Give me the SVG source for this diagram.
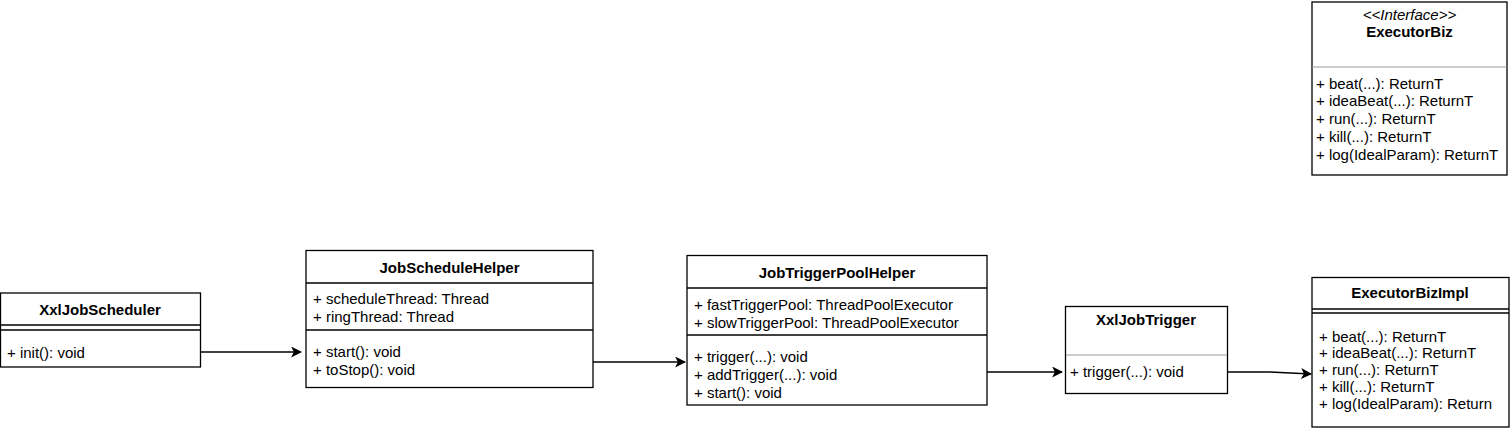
<svg xmlns="http://www.w3.org/2000/svg" width="1512" height="431" viewBox="0 0 1512 431">
<style>
.box{fill:#fff;stroke:#000;stroke-width:1.3}
.ln{stroke:#000;stroke-width:1.3;fill:none}
.gl{stroke:#999;stroke-width:1;fill:none}
text{font-family:"Liberation Sans",Arial,Helvetica,sans-serif;font-size:15px;fill:#000}
.t{font-weight:bold;text-anchor:middle}
.i{font-style:italic;text-anchor:middle}
.c{stroke:#000;stroke-width:1.3;fill:none;marker-end:url(#ah)}
</style>
<defs>
<marker id="ah" viewBox="0 0 10 10" refX="9" refY="5" markerWidth="11" markerHeight="11" markerUnits="userSpaceOnUse" orient="auto">
<path d="M0,0 L10,5 L0,10 L2.5,5 Z" fill="#000"/>
</marker>
</defs>
<g id="XxlJobScheduler">
<rect class="box" x="0.5" y="293" width="200" height="74"/>
<line class="ln" x1="0" y1="325" x2="200.5" y2="325"/>
<line class="ln" x1="0" y1="330" x2="200.5" y2="330"/>
<text class="t" x="100" y="315">XxlJobScheduler</text>
<text x="7" y="358">+ init(): void</text>
</g>
<g id="JobScheduleHelper">
<rect class="box" x="306" y="250.5" width="287" height="137"/>
<line class="ln" x1="306" y1="283" x2="593" y2="283"/>
<line class="ln" x1="306" y1="330" x2="593" y2="330"/>
<text class="t" x="449.5" y="273">JobScheduleHelper</text>
<text x="313" y="304">+ scheduleThread: Thread</text>
<text x="313" y="322">+ ringThread: Thread</text>
<text x="313" y="357">+ start(): void</text>
<text x="313" y="375">+ toStop(): void</text>
</g>
<g id="JobTriggerPoolHelper">
<rect class="box" x="687" y="255.5" width="300" height="149.5"/>
<line class="ln" x1="687" y1="288" x2="987" y2="288"/>
<line class="ln" x1="687" y1="335" x2="987" y2="335"/>
<text class="t" x="837" y="278">JobTriggerPoolHelper</text>
<text x="694" y="310">+ fastTriggerPool: ThreadPoolExecutor</text>
<text x="694" y="328">+ slowTriggerPool: ThreadPoolExecutor</text>
<text x="694" y="362">+ trigger(...): void</text>
<text x="694" y="380">+ addTrigger(...): void</text>
<text x="694" y="398">+ start(): void</text>
</g>
<g id="XxlJobTrigger">
<rect class="box" x="1065.5" y="306.5" width="162" height="87"/>
<line class="gl" x1="1066" y1="355" x2="1227" y2="355"/>
<text class="t" x="1146" y="325">XxlJobTrigger</text>
<text x="1070" y="377">+ trigger(...): void</text>
</g>
<g id="ExecutorBizImpl">
<rect class="box" x="1312" y="277.5" width="197" height="149.5"/>
<line class="ln" x1="1312" y1="309" x2="1509" y2="309"/>
<line class="ln" x1="1312" y1="313" x2="1509" y2="313"/>
<text class="t" x="1410" y="298">ExecutorBizImpl</text>
<text x="1319" y="342">+ beat(...): ReturnT</text>
<text x="1319" y="358">+ ideaBeat(...): ReturnT</text>
<text x="1319" y="375">+ run(...): ReturnT</text>
<text x="1319" y="392">+ kill(...): ReturnT</text>
<text x="1319" y="409">+ log(IdealParam): Return</text>
</g>
<g id="ExecutorBiz">
<rect class="box" x="1312" y="2" width="195" height="173"/>
<line class="gl" x1="1312" y1="67" x2="1507" y2="67"/>
<text class="i" x="1409.5" y="20">&lt;&lt;Interface&gt;&gt;</text>
<text class="t" x="1409.5" y="37">ExecutorBiz</text>
<text x="1316" y="89">+ beat(...): ReturnT</text>
<text x="1316" y="106">+ ideaBeat(...): ReturnT</text>
<text x="1316" y="124">+ run(...): ReturnT</text>
<text x="1316" y="142">+ kill(...): ReturnT</text>
<text x="1316" y="160">+ log(IdealParam): ReturnT</text>
</g>
<g id="connectors">
<path class="c" d="M200.5,352 L301,352"/>
<path class="c" d="M593,362 L685,362"/>
<path class="c" d="M987,372 L1062,372"/>
<path class="c" d="M1227.5,372 L1270,372 L1311,374"/>
</g>
</svg>
